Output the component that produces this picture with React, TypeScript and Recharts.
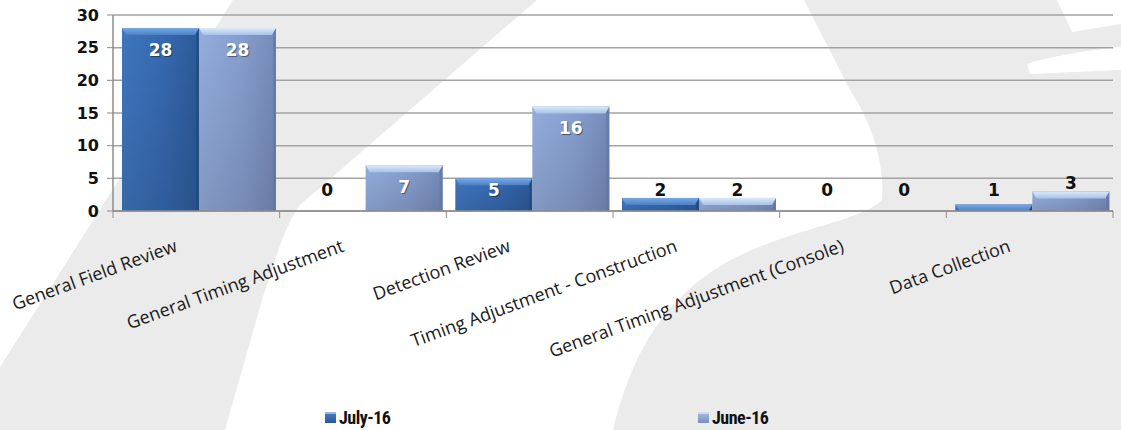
import { BarChart, Bar, XAxis, YAxis, CartesianGrid, LabelList, Legend } from "recharts";

const categories = [
  "General Field Review",
  "General Timing Adjustment",
  "Detection Review",
  "Timing Adjustment - Construction",
  "General Timing Adjustment (Console)",
  "Data Collection",
];
const july16 = [28, 0, 5, 2, 0, 1];
const june16 = [28, 7, 16, 2, 0, 3];
const yTicks = [0, 5, 10, 15, 20, 25, 30];

const data = categories.map((name, i) => ({ name, july: july16[i], june: june16[i] }));

const W = 1121;
const H = 430;
const PLOT_LEFT = 113;
const PLOT_RIGHT = 1113;
const BAND = (PLOT_RIGHT - PLOT_LEFT) / categories.length;
const SHIFT = 3; // excel bars sit a little right of centre
const AXIS = "#8c8c8c";

// bar with a light bevel on top, like the old office 3d style
const bevelShape = (id: string, edge: string) => (props: any) => {
  const { x, y, width, height } = props;
  if (!height || height <= 0) return <g />;
  const bx = x + SHIFT;
  const bev = Math.min(7, height);
  return (
    <g>
      <rect x={bx} y={y} width={width} height={height} fill={`url(#${id}Body)`} />
      <rect x={bx} y={y} width={width} height={height} fill="url(#shadeDown)" />
      <rect x={bx + width - 3} y={y} width={3} height={height} fill={edge} opacity={0.55} />
      <polygon
        points={`${bx},${y} ${bx + width},${y} ${bx + width - 4},${y + bev} ${bx + 4},${y + bev}`}
        fill={`url(#${id}Top)`}
      />
    </g>
  );
};

const valueLabel = (props: any) => {
  const { x, y, width, height, value } = props;
  const bottom = y + height;
  const inside = value >= 5;
  const cy = inside ? Math.min(y + 22, bottom - 21) : Math.min(y - 8, bottom - 21);
  return (
    <text
      x={x + width / 2 + SHIFT}
      y={cy}
      textAnchor="middle"
      dominantBaseline="central"
      fontFamily="'DejaVu Sans', Verdana, sans-serif"
      fontWeight="bold"
      fontSize={17}
      fill={inside ? "#ffffff" : "#111111"}
      style={inside ? { textShadow: "1px 1px 1px rgba(0,0,0,0.45)" } : undefined}
    >
      {value}
    </text>
  );
};

function CategoryTick(props: any) {
  const { x, y, payload, index } = props;
  const left = x - BAND / 2;
  const ax = x - 18;
  const ay = y + 40;
  return (
    <g>
      <line x1={left} x2={left} y1={y} y2={y + 7} stroke={AXIS} />
      {index === categories.length - 1 && (
        <line x1={x + BAND / 2} x2={x + BAND / 2} y1={y} y2={y + 7} stroke={AXIS} />
      )}
      <text
        x={ax}
        y={ay}
        textAnchor="end"
        transform={`rotate(-20, ${ax}, ${ay})`}
        fontFamily="'Open Sans', sans-serif"
        fontSize={18}
        fill="#1a1a1a"
      >
        {payload.value}
      </text>
    </g>
  );
}

function LegendBox({ left, top, bottom, label }: { left: number; top: string; bottom: string; label: string }) {
  return (
    <div style={{ position: "absolute", left, top: 7, display: "flex", alignItems: "center" }}>
      <div
        style={{
          width: 11,
          height: 11,
          marginRight: 3,
          background: `linear-gradient(${top} 0%, ${bottom} 100%)`,
          boxShadow: "inset 0 2px 0 rgba(255,255,255,0.45)",
        }}
      />
      <span
        style={{
          fontFamily: "'Liberation Sans Narrow', 'Roboto Condensed', Roboto, sans-serif",
          fontWeight: "bold",
          fontSize: 18,
          color: "#111",
          letterSpacing: -0.5,
        }}
      >
        {label}
      </span>
    </div>
  );
}

function renderLegend() {
  return (
    <div style={{ position: "relative", width: W, height: 30 }}>
      <LegendBox left={325} top="#4a80c8" bottom="#2a5896" label="July-16" />
      <LegendBox left={698} top="#a9bfe6" bottom="#7a8fbd" label="June-16" />
    </div>
  );
}

export default function App() {
  return (
    <div style={{ position: "absolute", left: 0, top: 0, width: W, height: H, background: "#ffffff", overflow: "hidden" }}>
      {/* faint watermark swooshes in the background */}
      <svg width={W} height={H} style={{ position: "absolute", left: 0, top: 0 }}>
        <path d="M233,0 L537,0 L300,205 C285,225 275,260 262,300 L225,430 L-40,430 Z" fill="#ebebeb" />
        <path
          d="M804,0 L1121,0 L1121,430 L613,430 C630,360 660,300 727,262 C790,228 860,222 882,200 C885,160 870,120 850,90 Z"
          fill="#ebebeb"
        />
        <path d="M1057,0 L1121,0 L1121,24 L1072,32 Z" fill="#ffffff" />
        <path d="M1027,64 C1050,56 1090,50 1121,47 L1121,70 L1030,74 Z" fill="#ffffff" />
      </svg>
      <div style={{ position: "absolute", left: 0, top: 0 }}>
        <BarChart
          width={W}
          height={H}
          data={data}
          margin={{ top: 15, right: W - PLOT_RIGHT, left: 0, bottom: 0 }}
          barGap={0}
          barSize={77}
        >
          <defs>
            <linearGradient id="julyBody" x1="0" y1="0" x2="1" y2="0">
              <stop offset="0%" stopColor="#3f76be" />
              <stop offset="55%" stopColor="#3669b0" />
              <stop offset="100%" stopColor="#2c5b99" />
            </linearGradient>
            <linearGradient id="julyTop" x1="0" y1="0" x2="0" y2="1">
              <stop offset="0%" stopColor="#78a9e6" />
              <stop offset="100%" stopColor="#4c80c6" />
            </linearGradient>
            <linearGradient id="juneBody" x1="0" y1="0" x2="1" y2="0">
              <stop offset="0%" stopColor="#94addc" />
              <stop offset="55%" stopColor="#879fcf" />
              <stop offset="100%" stopColor="#768bb9" />
            </linearGradient>
            <linearGradient id="juneTop" x1="0" y1="0" x2="0" y2="1">
              <stop offset="0%" stopColor="#d9eafc" />
              <stop offset="100%" stopColor="#a8c1e8" />
            </linearGradient>
            <linearGradient id="shadeDown" x1="0" y1="0" x2="0" y2="1">
              <stop offset="0%" stopColor="#000000" stopOpacity={0} />
              <stop offset="100%" stopColor="#000000" stopOpacity={0.12} />
            </linearGradient>
          </defs>
          <CartesianGrid vertical={false} stroke="#a3a3a3" strokeWidth={1.5} />
          <XAxis
            dataKey="name"
            interval={0}
            height={189}
            tickSize={0}
            tickMargin={0}
            tickLine={false}
            axisLine={{ stroke: AXIS, strokeWidth: 1.5 }}
            tick={<CategoryTick />}
          />
          <YAxis
            domain={[0, 30]}
            ticks={yTicks}
            width={PLOT_LEFT}
            tickSize={6}
            tickMargin={8}
            axisLine={{ stroke: AXIS, strokeWidth: 1.5 }}
            tickLine={{ stroke: AXIS }}
            tick={{ fontFamily: "'DejaVu Sans', Verdana, sans-serif", fontWeight: "bold", fontSize: 16, fill: "#111" }}
          />
          <Legend verticalAlign="bottom" content={renderLegend} />
          <Bar dataKey="july" name="July-16" fill="#3669b0" shape={bevelShape("july", "#1f4577")} isAnimationActive={false}>
            <LabelList dataKey="july" content={valueLabel} />
          </Bar>
          <Bar dataKey="june" name="June-16" fill="#879fcf" shape={bevelShape("june", "#5f739e")} isAnimationActive={false}>
            <LabelList dataKey="june" content={valueLabel} />
          </Bar>
        </BarChart>
      </div>
    </div>
  );
}
